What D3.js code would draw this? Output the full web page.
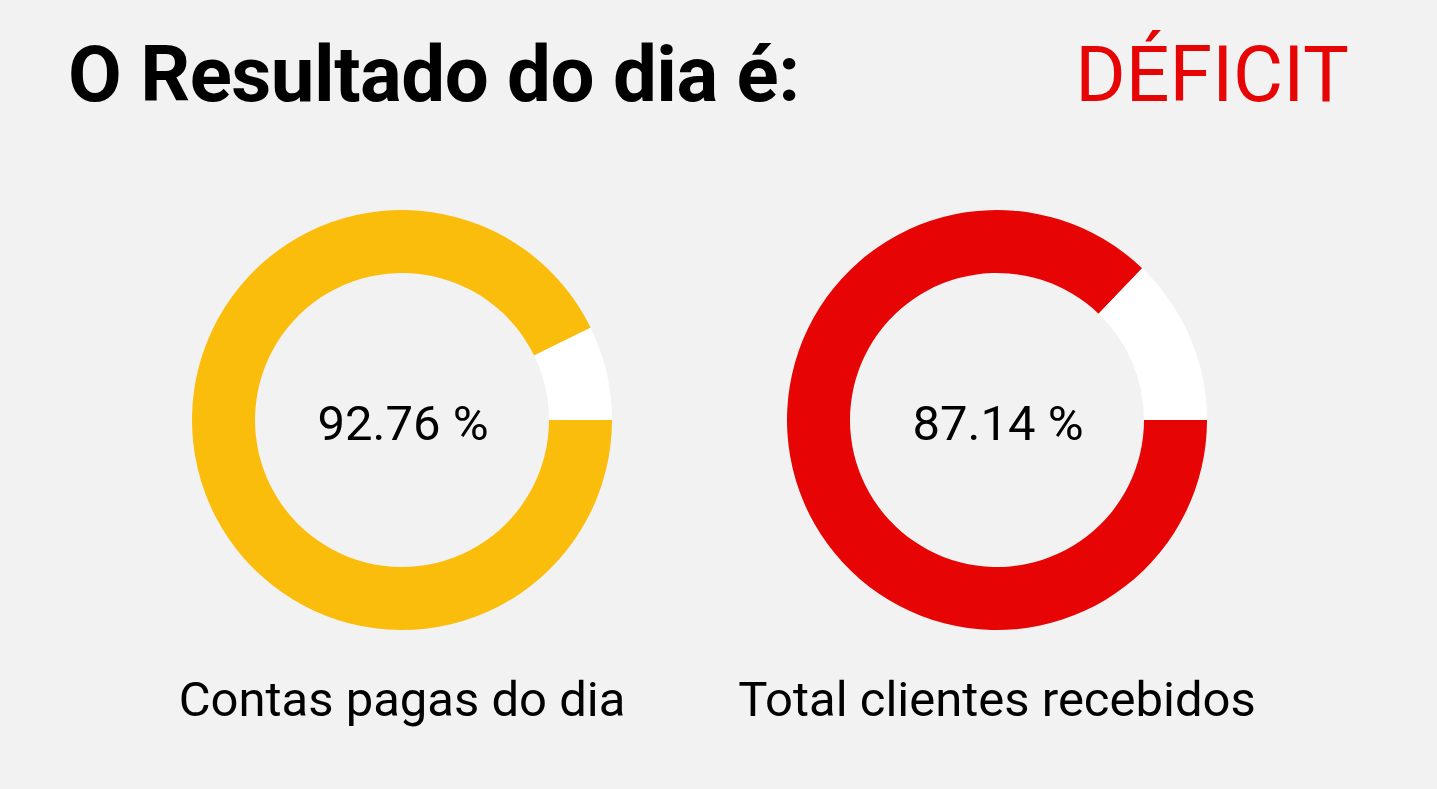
<!DOCTYPE html>
<html>
<head>
<meta charset="utf-8">
<script src="https://cdn.jsdelivr.net/npm/d3@7"></script>
<style>
html,body{margin:0;padding:0;background:#f2f2f2;}
svg{display:block;font-family:Roboto, "Noto Sans", sans-serif;}
</style>
</head>
<body>
<svg id="chart" width="1437" height="789"></svg>
<script>
const titleText = "O Resultado do dia é:";
const resultText = "DÉFICIT";
const categories = ["Contas pagas do dia", "Total clientes recebidos"];
const values = [92.76, 87.14];
const colors = ["#fbbd0b", "#e60404"];

const svg = d3.select("#chart");
svg.append("rect").attr("width",1437).attr("height",789).attr("fill","#f2f2f2");

svg.append("text").attr("x",68).attr("y",101)
  .attr("font-size",78).attr("font-weight",700).attr("fill","#000")
  .attr("letter-spacing",-0.5)
  .text(titleText);
svg.append("text").attr("x",1349).attr("y",101).attr("text-anchor","end")
  .attr("font-size",77).attr("font-weight",400).attr("fill","#e60404")
  .text(resultText);

const x = d3.scalePoint().domain(categories).range([402,997]);
const cy = 420, outerR = 210, innerR = 147;
const pct = d3.scaleLinear().domain([0,100]).range([0, 2*Math.PI]);
const arc = d3.arc().innerRadius(innerR).outerRadius(outerR);
const start = Math.PI/2;

categories.forEach((c,i)=>{
  const g = svg.append("g").attr("transform",`translate(${x(c)},${cy})`);
  const end = start + pct(values[i]);
  g.append("path").attr("d", arc({startAngle:start, endAngle:end})).attr("fill",colors[i]);
  g.append("path").attr("d", arc({startAngle:end, endAngle:start+2*Math.PI})).attr("fill","#ffffff");
  g.append("text").attr("x",1).attr("y",20).attr("text-anchor","middle")
    .attr("font-size",49).attr("fill","#000")
    .text(d3.format(".2f")(values[i]) + " %");
  g.append("text").attr("y",296).attr("text-anchor","middle")
    .attr("font-size",49).attr("fill","#000")
    .text(c);
});
</script>
</body>
</html>
